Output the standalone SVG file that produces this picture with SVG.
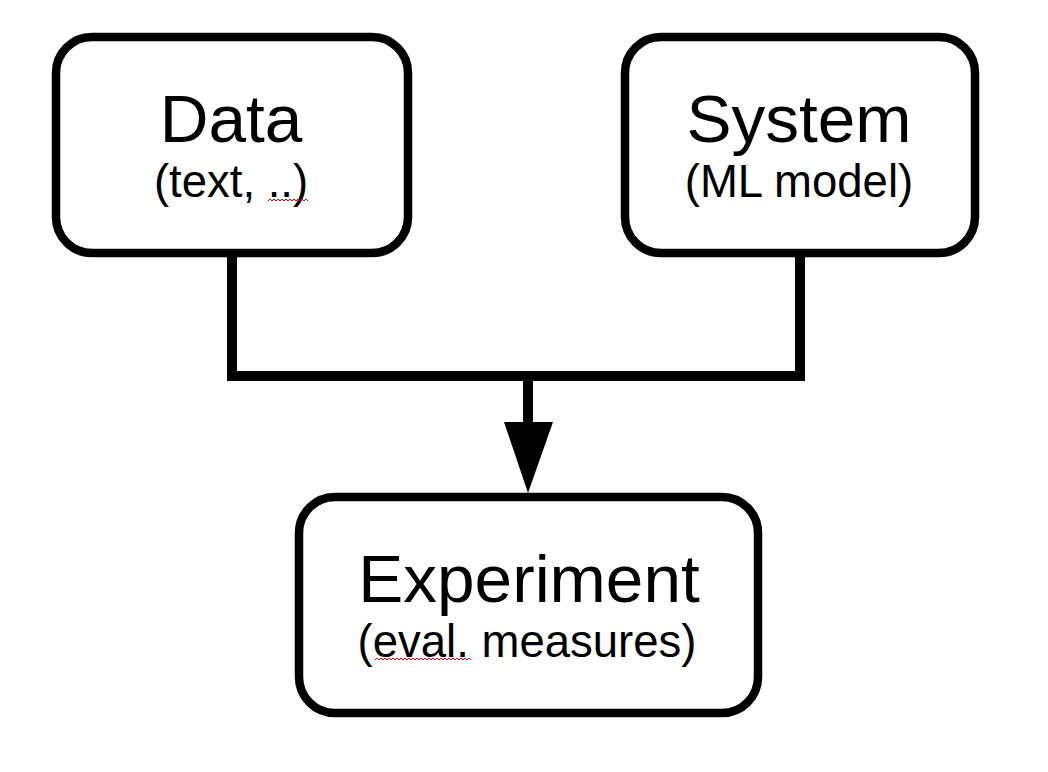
<svg xmlns="http://www.w3.org/2000/svg" width="1048" height="772" viewBox="0 0 1048 772">
<style>
.box{fill:#fff;stroke:#000;stroke-width:8.5}
.t{font-family:"Liberation Sans",Arial,sans-serif;fill:#000;text-anchor:middle}
.m{font-size:67.5px}
.s{font-size:45.5px}
.c{fill:none;stroke:#000;stroke-width:10;stroke-linejoin:miter}
.sq{fill:none;stroke:#e00;stroke-width:1}
</style>
<rect width="1048" height="772" fill="#fff"/>
<g id="connectors">
<path class="c" d="M232,255 V376 H800 V255"/>
<path class="c" d="M528,376 V426"/>
<polygon points="504,422 553,422 528,493" fill="#000"/>
</g>
<g id="data">
<rect class="box" x="56" y="37" width="352" height="216" rx="36"/>
<text class="t m" x="231" y="142">Data</text>
<text class="t s" x="231" y="197">(text, ..)</text>
<path class="sq" d="M268,201 l2,-2 2,2 2,-2 2,2 2,-2 2,2 2,-2 2,2 2,-2 2,2 2,-2 2,2 2,-2 2,2 2,-2 2,2 2,-2 2,2 2,-2 2,2"/>
</g>
<g id="system">
<rect class="box" x="625" y="37" width="350" height="216" rx="36"/>
<text class="t m" x="799" y="142">System</text>
<text class="t s" x="799" y="197">(ML model)</text>
</g>
<g id="experiment">
<rect class="box" x="299" y="497" width="459" height="216" rx="36"/>
<text class="t m" x="529" y="602">Experiment</text>
<text class="t s" x="527" y="657">(eval. measures)</text>
<path class="sq" d="M375,660 l2,-2 2,2 2,-2 2,2 2,-2 2,2 2,-2 2,2 2,-2 2,2 2,-2 2,2 2,-2 2,2 2,-2 2,2 2,-2 2,2 2,-2 2,2 2,-2 2,2 2,-2 2,2 2,-2 2,2 2,-2 2,2 2,-2 2,2 2,-2 2,2 2,-2 2,2 2,-2 2,2 2,-2 2,2 2,-2 2,2 2,-2 2,2 2,-2 2,2 2,-2 2,2 2,-2 2,2"/>
</g>
</svg>
